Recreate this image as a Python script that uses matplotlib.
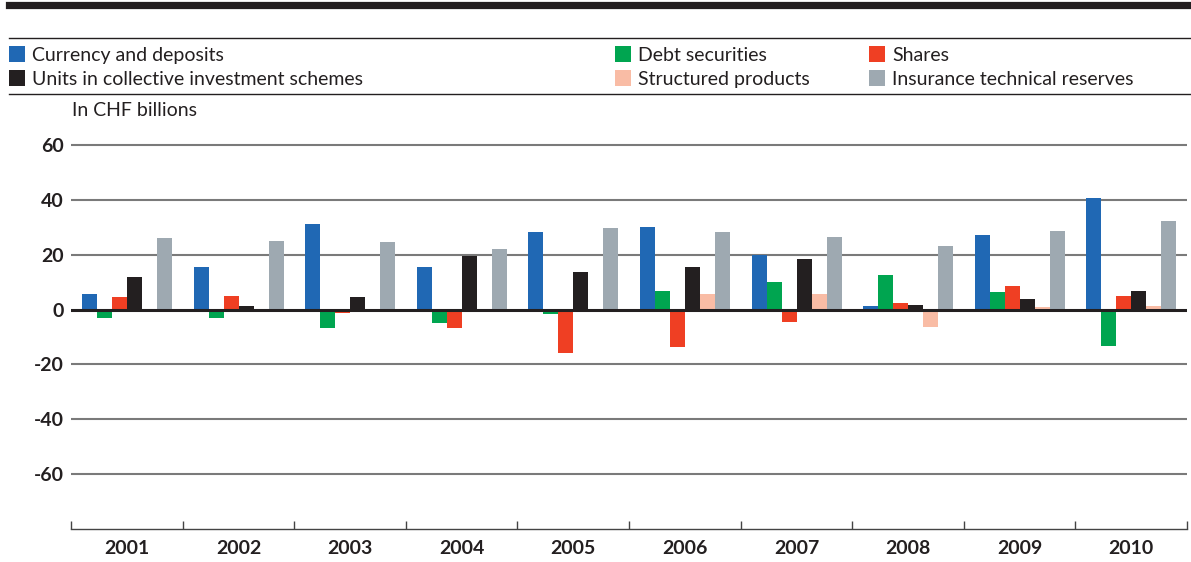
import numpy as np
import matplotlib
matplotlib.use("Agg")
from matplotlib import pyplot as plt
from matplotlib.patches import Rectangle
from matplotlib.lines import Line2D

years = ["2001", "2002", "2003", "2004", "2005", "2006", "2007", "2008", "2009", "2010"]

series = ["Currency and deposits", "Debt securities", "Shares",
          "Units in collective investment schemes", "Structured products",
          "Insurance technical reserves"]
colors = ["#2068b4", "#00a550", "#ef3f23", "#231f20", "#f9bca5", "#9ea9b1"]

currency = [5.8, 15.3, 31.3, 15.6, 28.4, 30.2, 20.0, 1.4, 27.3, 40.7]
debt = [-3.2, -3.2, -6.9, -5.0, -1.7, 6.9, 10.2, 12.4, 6.2, -13.1]
shares = [4.4, 5.1, -1.3, -6.9, -16.0, -13.5, -4.6, 2.2, 8.4, 5.1]
units = [12.0, 1.4, 4.7, 19.6, 13.5, 15.3, 18.5, 1.8, 4.0, 6.9]
structured = [0, 0, 0, 0, 0, 5.5, 5.5, -6.5, 1.1, 1.4]
insurance = [26.2, 25.1, 24.4, 22.2, 29.8, 28.4, 26.5, 23.3, 28.7, 32.4]
values = [currency, debt, shares, units, structured, insurance]

yticks = [-60, -40, -20, 0, 20, 40, 60]

W, H = 1191, 562
def fx(px):
    return px / W
def fy(py):
    return 1 - py / H

plt.rcParams["font.family"] = ["Lato", "DejaVu Sans"]
fig = plt.figure(figsize=(W / 100, H / 100), dpi=100)

# header rules
fig.add_artist(Line2D([fx(9), 1], [fy(4.5), fy(4.5)], color="#231f20", lw=5.2))
fig.add_artist(Line2D([fx(9), 1], [fy(38), fy(38)], color="#231f20", lw=1))
fig.add_artist(Line2D([fx(9), 1], [fy(94), fy(94)], color="#231f20", lw=1))

# legend, laid out by hand like the original
leg_x = [9, 615, 869, 9, 615, 869]
leg_y = [54, 54, 54, 78, 78, 78]
for i in range(len(series)):
    x0, yc = leg_x[i], leg_y[i]
    fig.add_artist(Rectangle((fx(x0), fy(yc + 8)), 16 / W, 16 / H,
                             color=colors[i], lw=0))
    fig.text(fx(x0 + 23), fy(yc + 1.5), series[i], fontsize=14,
             color="#231f20", va="center", ha="left")

fig.text(fx(72), fy(110.5), "In CHF billions", fontsize=14, color="#231f20",
         va="center", ha="left")

ymin, ymax = -80, 65
px_per = (529.3 - 144.7) / 140
top_px = 144.7 - (ymax - 60) * px_per
ax = fig.add_axes([fx(71), fy(529.3), (1187 - 71) / W, (529.3 - top_px) / H])

n = len(years)
x = np.arange(n)
bw = 0.1345
off = 0.0987
for j, vals in enumerate(values):
    ax.bar(x + off + j * bw, vals, width=bw, align="edge", color=colors[j],
           lw=0, zorder=2)

for v in yticks:
    if v == 0:
        ax.axhline(v, color="#231f20", lw=2.2, zorder=3)
    else:
        ax.axhline(v, color="#7a7a7a", lw=1.5, zorder=0)

ax.set_xlim(0, n)
ax.set_ylim(ymin, ymax)
for s in ["top", "right", "left"]:
    ax.spines[s].set_visible(False)
ax.spines["bottom"].set_color("#444444")
ax.spines["bottom"].set_linewidth(1)

ax.set_yticks(yticks)
ax.set_yticklabels([str(v) for v in yticks], fontsize=14, fontweight="bold",
                   color="#231f20")
ax.tick_params(axis="y", length=0, pad=5)

ax.set_xticks(np.arange(n + 1))
ax.set_xticklabels([])
ax.tick_params(axis="x", which="major", direction="in", length=6, width=1,
               color="#444444")
ax.set_xticks(x + 0.5, minor=True)
ax.set_xticklabels(years, minor=True, fontsize=14, fontweight="bold",
                   color="#231f20")
ax.tick_params(axis="x", which="minor", length=0, pad=8)

fig.savefig("out.png", dpi=100)
